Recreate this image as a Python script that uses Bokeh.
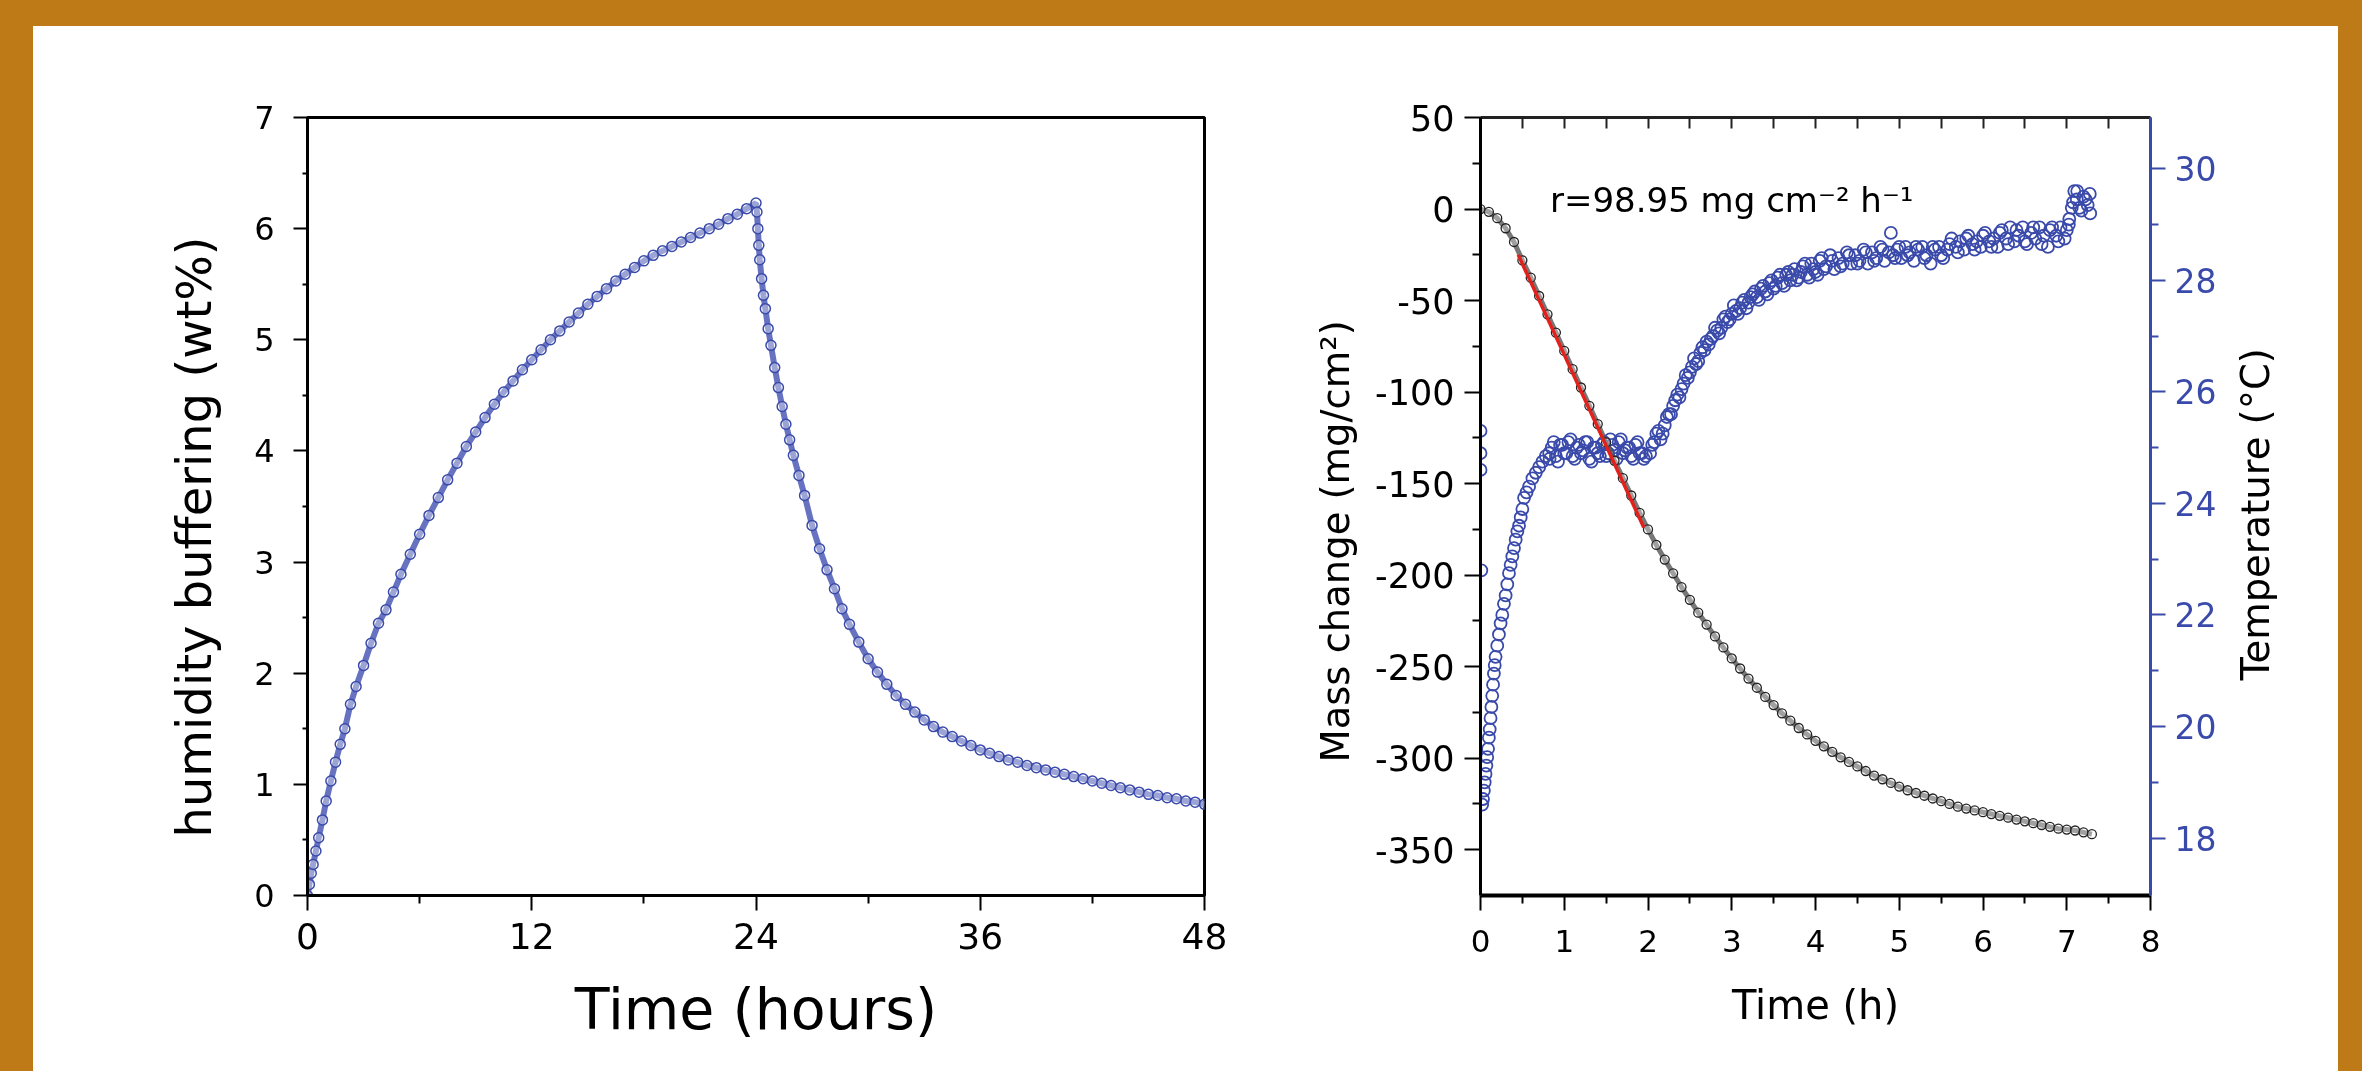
from bokeh.plotting import figure
from bokeh.models import LinearAxis, Range1d, Label, FixedTicker, Spacer, Title
from bokeh.layouts import row, column
from bokeh.embed import file_html
from bokeh.resources import INLINE

FONT = "DejaVu Sans"
BG = "#BE7A17"
BLUE = "#3A4AAA"

# ---------------- left panel data: humidity buffering ----------------
hum_time = [0, 0.1, 0.2, 0.3, 0.45, 0.6, 0.8, 1.0, 1.25, 1.5, 1.75, 2.0, 2.3, 2.6, 3.0, 3.4,
            3.8, 4.2, 4.6, 5.0, 5.5, 6.0, 6.5, 7.0, 7.5, 8.0, 8.5, 9.0, 9.5, 10.0, 10.5, 11.0,
            11.5, 12.0, 12.5, 13.0, 13.5, 14.0, 14.5, 15.0, 15.5, 16.0, 16.5, 17.0, 17.5, 18.0,
            18.5, 19.0, 19.5, 20.0, 20.5, 21.0, 21.5, 22.0, 22.5, 23.0, 23.5, 24.0,
            24.05, 24.1, 24.15, 24.2, 24.3, 24.4, 24.5, 24.65, 24.8, 25.0, 25.2, 25.4, 25.6,
            25.8, 26.0, 26.3, 26.6, 27.0, 27.4, 27.8, 28.2, 28.6, 29.0, 29.5, 30.0, 30.5,
            31.0, 31.5, 32.0, 32.5, 33.0, 33.5, 34.0, 34.5, 35.0, 35.5, 36.0, 36.5, 37.0,
            37.5, 38.0, 38.5, 39.0, 39.5, 40.0, 40.5, 41.0, 41.5, 42.0, 42.5, 43.0, 43.5,
            44.0, 44.5, 45.0, 45.5, 46.0, 46.5, 47.0, 47.5, 48.0]
hum_value = [0, 0.1, 0.2, 0.28, 0.4, 0.52, 0.68, 0.85, 1.03, 1.2, 1.36, 1.5, 1.72, 1.88, 2.07,
             2.27, 2.45, 2.57, 2.73, 2.89, 3.07, 3.25, 3.42, 3.58, 3.74, 3.89, 4.04, 4.17, 4.3,
             4.42, 4.53, 4.63, 4.73, 4.82, 4.91, 5.0, 5.08, 5.16, 5.24, 5.32, 5.39, 5.46, 5.53,
             5.59, 5.65, 5.71, 5.76, 5.8, 5.84, 5.88, 5.92, 5.96, 6.0, 6.04, 6.09, 6.13, 6.18,
             6.23,
             6.15, 6.0, 5.85, 5.72, 5.55, 5.4, 5.28, 5.1, 4.95, 4.75, 4.57, 4.4, 4.24, 4.1,
             3.96, 3.78, 3.6, 3.33, 3.12, 2.93, 2.76, 2.58, 2.44, 2.28, 2.13, 2.01, 1.9, 1.8,
             1.72, 1.65, 1.58, 1.52, 1.47, 1.43, 1.39, 1.35, 1.31, 1.28, 1.25, 1.22, 1.2, 1.17,
             1.15, 1.13, 1.11, 1.09, 1.07, 1.05, 1.03, 1.01, 0.99, 0.97, 0.95, 0.93, 0.91,
             0.9, 0.88, 0.87, 0.85, 0.84, 0.82]
hum_xticks = [0, 12, 24, 36, 48]
hum_xminor = [6, 18, 30, 42]
hum_yticks = [0, 1, 2, 3, 4, 5, 6, 7]
hum_yminor = [0.5, 1.5, 2.5, 3.5, 4.5, 5.5, 6.5]

# ---------------- right panel data: mass change and temperature ----------------
mass_time = [0.0, 0.1, 0.2, 0.3, 0.4, 0.5, 0.6, 0.7, 0.8, 0.9, 1.0, 1.1, 1.2, 1.3, 1.4, 1.5,
             1.6, 1.7, 1.8, 1.9, 2.0, 2.1, 2.2, 2.3, 2.4, 2.5, 2.6, 2.7, 2.8, 2.9, 3.0, 3.1,
             3.2, 3.3, 3.4, 3.5, 3.6, 3.7, 3.8, 3.9, 4.0, 4.1, 4.2, 4.3, 4.4, 4.5, 4.6, 4.7,
             4.8, 4.9, 5.0, 5.1, 5.2, 5.3, 5.4, 5.5, 5.6, 5.7, 5.8, 5.9, 6.0, 6.1, 6.2, 6.3,
             6.4, 6.5, 6.6, 6.7, 6.8, 6.9, 7.0, 7.1, 7.2, 7.3]
mass_value = [0, -1.5, -5, -10.5, -18, -28, -37.5, -47.5, -57.5, -67.5, -77.5, -87.5, -97.5,
              -107.5, -117.5, -127.5, -137.5, -147, -156.5, -166, -175, -183.5, -191.5, -199,
              -206.5, -213.5, -220.5, -227, -233.5, -239.5, -245.5, -251, -256.5, -261.5,
              -266.5, -271, -275.5, -279.5, -283.5, -287, -290.5, -293.5, -296.5, -299.5, -302,
              -304.5, -307, -309.5, -311.5, -313.5, -315.5, -317.5, -319, -320.5, -322, -323.5,
              -325, -326.5, -327.5, -328.5, -329.5, -330.5, -331.5, -332.5, -333.5, -334.5,
              -335.5, -336.5, -337.5, -338.5, -339, -339.5, -340.5, -341.5]
fit_time = [0.45, 1.95]
fit_mass = [-25, -174]
rate_text = "r=98.95 mg cm\u207b\u00b2 h\u207b\u00b9"

temp_time = [0.0, 0.0, 0.0, 0.01, 0.02, 0.03, 0.04, 0.05, 0.06, 0.07, 0.08, 0.09, 0.10, 0.11,
             0.12, 0.13, 0.14, 0.15, 0.16, 0.17, 0.18, 0.20, 0.22, 0.24, 0.26, 0.28, 0.30,
             0.32, 0.34, 0.36, 0.38, 0.40, 0.42, 0.44, 0.46, 0.48, 0.50, 0.52, 0.55, 0.58,
             0.62, 0.66, 0.70, 0.74, 0.78, 0.82,
             0.85, 0.9, 0.95, 1.0, 1.05, 1.1, 1.15, 1.2, 1.25, 1.3, 1.35, 1.4, 1.45, 1.5,
             1.55, 1.6, 1.65, 1.7, 1.75, 1.8, 1.85, 1.9, 1.95,
             2.05, 2.1, 2.15, 2.2, 2.25, 2.3, 2.35, 2.4, 2.45, 2.5, 2.55, 2.6, 2.65, 2.7,
             2.75, 2.8, 2.85, 2.9, 2.95, 3.0, 3.05, 3.1, 3.15, 3.2, 3.25, 3.3, 3.35, 3.4,
             3.45, 3.5, 3.55, 3.6, 3.65, 3.7, 3.75, 3.8, 3.85, 3.9, 3.95, 4.0, 4.05, 4.1,
             4.2, 4.3, 4.4, 4.5, 4.6, 4.7, 4.8, 4.9, 4.95, 5.0, 5.1, 5.2, 5.3, 5.4, 5.5,
             5.6, 5.7, 5.8, 5.9, 6.0, 6.1, 6.2, 6.3, 6.4, 6.5, 6.6, 6.7, 6.8, 6.9, 7.0,
             7.03, 7.06, 7.09, 7.12, 7.15, 7.2, 7.25, 7.28]
temp_value = [25.3, 24.9, 24.6, 22.8, 18.6, 18.7, 18.85, 19.0, 19.15, 19.3, 19.45, 19.6, 19.8,
              19.95, 20.15, 20.35, 20.55, 20.75, 20.95, 21.1, 21.25, 21.45, 21.65, 21.85,
              22.0, 22.2, 22.35, 22.55, 22.75, 22.9, 23.05, 23.2, 23.35, 23.5, 23.6, 23.75,
              23.9, 24.1, 24.2, 24.3, 24.45, 24.55, 24.65, 24.75, 24.85, 24.9,
              25.0, 24.85, 25.05, 24.9, 25.1, 24.85, 25.0, 24.9, 25.1, 24.8, 25.0, 24.9,
              25.05, 24.85, 25.15, 24.95, 25.1, 24.9, 25.0, 24.85, 25.05, 24.9, 24.8,
              25.05, 25.25, 25.15, 25.4, 25.6, 25.75, 25.95, 26.05, 26.3, 26.35, 26.6, 26.55,
              26.8, 26.9, 26.95, 27.15, 27.05, 27.3, 27.25, 27.4, 27.45, 27.5, 27.65, 27.6,
              27.75, 27.7, 27.85, 27.8, 27.95, 27.85, 28.05, 27.95, 28.1, 28.0, 28.2, 28.05,
              28.25, 28.1, 28.3, 28.15, 28.35, 28.2, 28.35, 28.25, 28.45, 28.3, 28.5, 28.35,
              28.55, 28.85, 28.4, 28.6, 28.45, 28.6, 28.4, 28.6, 28.45, 28.65, 28.5, 28.75,
              28.55, 28.8, 28.6, 28.85, 28.65, 28.9, 28.7, 28.95, 28.65, 28.9, 28.7, 28.9,
              29.1, 29.3, 29.6, 29.45, 29.3, 29.5, 29.35, 29.2]
# second reading of the noisy temperature band (other edge of the band)
temp_time_b = [0.825, 0.875, 0.925, 0.975, 1.025, 1.075, 1.125, 1.175, 1.225, 1.275, 1.325,
               1.375, 1.425, 1.475, 1.525, 1.575, 1.625, 1.675, 1.725, 1.775, 1.825, 1.875,
               1.925, 1.975,
               2.025, 2.075, 2.125, 2.175, 2.225, 2.275, 2.325, 2.375, 2.425, 2.475, 2.525,
               2.575, 2.625, 2.675, 2.725, 2.775, 2.825, 2.875, 2.925, 2.975, 3.025, 3.075,
               3.125, 3.175, 3.225, 3.275, 3.325, 3.375, 3.425, 3.475, 3.525, 3.575, 3.625,
               3.675, 3.725, 3.775, 3.825, 3.875, 3.925, 3.975, 4.025,
               4.075, 4.125, 4.175, 4.225, 4.275, 4.325, 4.375, 4.425, 4.475, 4.525, 4.575,
               4.625, 4.675, 4.725, 4.775, 4.825, 4.875, 4.925, 4.975, 5.025, 5.075, 5.125,
               5.175, 5.225, 5.275, 5.325, 5.375, 5.425, 5.475, 5.525, 5.575, 5.625, 5.675,
               5.725, 5.775, 5.825, 5.875, 5.925, 5.975, 6.025, 6.075, 6.125, 6.175, 6.225,
               6.275, 6.325, 6.375, 6.425, 6.475, 6.525, 6.575, 6.625, 6.675, 6.725, 6.775,
               6.825, 6.875, 6.925, 6.975, 7.025, 7.075, 7.125, 7.175, 7.225, 7.275]
temp_value_b = [24.8, 25.1, 24.75, 25.05, 24.9, 25.15, 24.8, 25.05, 24.95, 25.1, 24.75, 25.0,
                24.85, 25.1, 24.9, 25.05, 24.8, 25.15, 24.95, 25.0, 24.8, 25.1, 24.9, 24.85,
                24.9, 25.1, 25.3, 25.25, 25.55, 25.6, 25.85, 25.9, 26.15, 26.25, 26.45, 26.5,
                26.7, 26.75, 26.85, 27.0, 27.1, 27.15, 27.35, 27.3, 27.55, 27.4, 27.6, 27.5,
                27.7, 27.8, 27.65, 27.9, 27.75, 28.0, 27.9, 28.1, 27.9, 28.15, 28.1, 28.0,
                28.15, 28.3, 28.05, 28.2, 28.1,
                28.4, 28.25, 28.45, 28.2, 28.4, 28.3, 28.5, 28.3, 28.45, 28.35, 28.55, 28.3,
                28.5, 28.4, 28.6, 28.35, 28.5, 28.45, 28.55, 28.4, 28.6, 28.5, 28.35, 28.55,
                28.6, 28.45, 28.3, 28.55, 28.6, 28.4, 28.55, 28.75, 28.6, 28.7, 28.55, 28.8,
                28.65, 28.7, 28.6, 28.85, 28.7, 28.75, 28.6, 28.9, 28.75, 28.95, 28.7, 28.8,
                28.95, 28.65, 28.85, 28.75, 28.95, 28.8, 28.6, 28.95, 28.8, 28.95, 28.75, 29.0,
                29.4, 29.6, 29.25, 29.45, 29.55]
time_ticks = [0, 1, 2, 3, 4, 5, 6, 7, 8]
time_minor = [0.5, 1.5, 2.5, 3.5, 4.5, 5.5, 6.5, 7.5]
mass_ticks = [50, 0, -50, -100, -150, -200, -250, -300, -350]
mass_minor = [25, -25, -75, -125, -175, -225, -275, -325]
temp_ticks = [18, 20, 22, 24, 26, 28, 30]
temp_minor = [19, 21, 23, 25, 27, 29]


def style_axis(ax, tick_size, label_size, color="black", line_w=3,
               tick_out=15, minor_out=8, label_standoff=8, title_standoff=20):
    ax.axis_line_color = color
    ax.axis_line_width = line_w
    ax.major_tick_line_color = color
    ax.minor_tick_line_color = color
    ax.major_tick_line_width = 2
    ax.minor_tick_line_width = 2
    ax.major_tick_in = 0
    ax.minor_tick_in = 0
    ax.major_tick_out = tick_out
    ax.minor_tick_out = minor_out
    ax.major_label_text_font = FONT
    ax.major_label_text_font_size = tick_size
    ax.major_label_text_color = color
    ax.major_label_standoff = label_standoff
    ax.axis_label_text_font = FONT
    ax.axis_label_text_font_size = label_size
    ax.axis_label_text_font_style = "normal"
    ax.axis_label_text_color = "black"
    ax.axis_label_standoff = title_standoff


def side_title(text, size, standoff, offset):
    # vertical title on the left side of a frame, text starting `offset` px above the frame bottom
    return Title(text=text, align="left", offset=offset, standoff=standoff,
                 text_font=FONT, text_font_size=size, text_font_style="normal",
                 text_color="black")


# frames of plots in one row are aligned, so all share the same top/bottom borders
TOP_B, BOT_B, FIG_H = 91, 175, 1044

# ---------------- left figure ----------------
p1 = figure(width=1247, height=FIG_H, output_backend="svg", toolbar_location=None,
            x_range=Range1d(0, 48), y_range=Range1d(0, 7),
            min_border_left=274, min_border_right=76, min_border_top=TOP_B,
            min_border_bottom=BOT_B,
            background_fill_color="white", border_fill_color="white",
            outline_line_color="black", outline_line_width=3)
p1.grid.visible = False
p1.xaxis.ticker = FixedTicker(ticks=hum_xticks, minor_ticks=hum_xminor)
p1.yaxis.ticker = FixedTicker(ticks=hum_yticks, minor_ticks=hum_yminor)
p1.xaxis.axis_label = "Time (hours)"
style_axis(p1.xaxis[0], "36px", "57px", tick_out=15, minor_out=8, label_standoff=12,
           title_standoff=24)
style_axis(p1.yaxis[0], "32px", "48px", tick_out=14, minor_out=5, label_standoff=19)
p1.add_layout(side_title("humidity buffering (wt%)", "48px", 60, 58), "left")

p1.line(hum_time, hum_value, line_color="#4C5BB6", line_width=6, line_alpha=0.85)
p1.scatter(hum_time, hum_value, marker="circle", size=10, line_color=BLUE, line_width=1.5,
           fill_color="white", fill_alpha=0.35)

# ---------------- right figure ----------------
p2 = figure(width=942, height=FIG_H, output_backend="svg", toolbar_location=None,
            x_range=Range1d(0, 8), y_range=Range1d(-375, 50),
            min_border_left=200, min_border_right=72, min_border_top=TOP_B,
            min_border_bottom=BOT_B,
            background_fill_color="white", border_fill_color="white",
            outline_line_color=None)
p2.grid.visible = False
p2.extra_y_ranges = {"temp": Range1d(16.97, 30.92)}
p2.xaxis.ticker = FixedTicker(ticks=time_ticks, minor_ticks=time_minor)
p2.yaxis.ticker = FixedTicker(ticks=mass_ticks, minor_ticks=mass_minor)
p2.yaxis.major_label_overrides = {v: str(v) for v in mass_ticks}
p2.xaxis.axis_label = "Time (h)"
style_axis(p2.xaxis[0], "31px", "40px", line_w=4, tick_out=15, minor_out=8,
           label_standoff=19, title_standoff=27)
style_axis(p2.yaxis[0], "35px", "38.5px", tick_out=16, minor_out=8, label_standoff=10)
p2.add_layout(side_title("Mass change (mg/cm\u00b2)", "38.5px", 30, 133), "left")

top_axis = LinearAxis(ticker=FixedTicker(ticks=[], minor_ticks=time_minor + time_ticks))
top_axis.axis_line_width = 3
top_axis.axis_line_color = "#222222"
top_axis.minor_tick_in = 11
top_axis.minor_tick_out = 0
top_axis.minor_tick_line_width = 2
top_axis.minor_tick_line_color = "#222222"
p2.add_layout(top_axis, "above")

temp_axis = LinearAxis(y_range_name="temp",
                       ticker=FixedTicker(ticks=temp_ticks, minor_ticks=temp_minor))
style_axis(temp_axis, "33px", "38.5px", color=BLUE, tick_out=15, minor_out=8,
           label_standoff=9)
p2.add_layout(temp_axis, "right")

p2.scatter(temp_time, temp_value, y_range_name="temp", marker="circle", size=12,
           line_color=BLUE, line_width=1.8, fill_color=None)
p2.scatter(temp_time_b, temp_value_b, y_range_name="temp", marker="circle", size=12,
           line_color=BLUE, line_width=1.8, fill_color=None)
p2.line(mass_time, mass_value, line_color="#555555", line_width=5, line_alpha=0.8)
p2.scatter(mass_time, mass_value, marker="circle", size=9, line_color="#222222",
           line_width=1.3, fill_color="white", fill_alpha=0.3)
p2.line(fit_time, fit_mass, line_color="#E3211C", line_width=3.5)

p2.add_layout(Label(x=0.83, y=5, text=rate_text, text_font=FONT, text_font_size="34px",
                    text_align="left", text_baseline="alphabetic", text_color="black"))

# ---------------- narrow strip carrying the right-hand axis title ----------------
q = figure(width=116, height=FIG_H, output_backend="svg", toolbar_location=None,
           x_range=Range1d(0, 1), y_range=Range1d(0, 1),
           x_axis_location=None, y_axis_location=None,
           min_border_left=60, min_border_right=0, min_border_top=TOP_B,
           min_border_bottom=BOT_B,
           background_fill_color="white", border_fill_color="white",
           outline_line_color=None)
q.grid.visible = False
q.add_layout(side_title("Temperature (\u00b0C)", "38.5px", 10, 215), "left")

layout = column(Spacer(height=26), row(Spacer(width=33), p1, p2, q))

html = file_html(layout, INLINE)
css = ("<style>html{background-color:%s;overflow:hidden;} body{overflow:hidden;} "
       "body::before{content:'';position:fixed;left:33px;top:26px;right:24px;bottom:0;"
       "background:#ffffff;z-index:-1;}</style>" % BG)
html = html.replace("</head>", css + "</head>", 1)
open("out.html", "w").write(html)
